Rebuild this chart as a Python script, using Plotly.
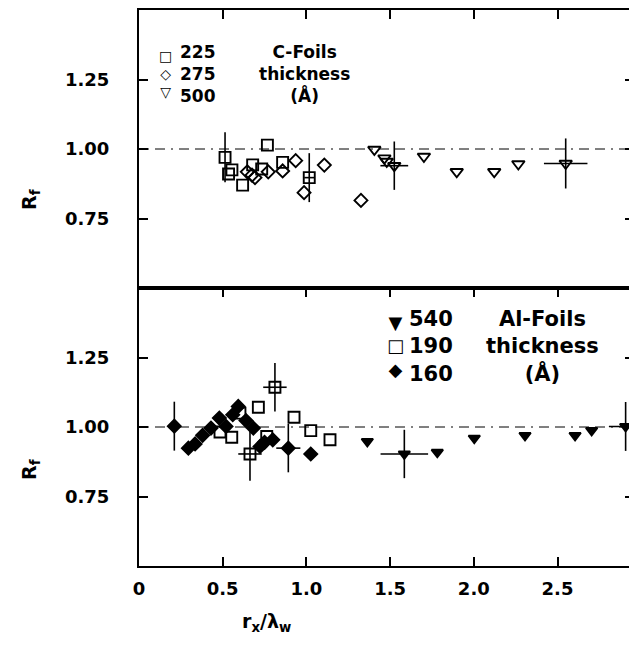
import plotly.graph_objects as go
from plotly.subplots import make_subplots

# ---------------- data: top panel (C-Foils) ----------------
c225_x = [0.514, 0.535, 0.555, 0.619, 0.679, 0.733, 0.767, 0.858, 1.017]
c225_y = [0.970, 0.910, 0.925, 0.870, 0.943, 0.928, 1.014, 0.952, 0.897]
c225_ey = [0.09, 0, 0, 0, 0, 0, 0, 0, 0.088]
c225_ex = [0, 0, 0, 0, 0, 0, 0, 0, 0.03]

c275_x = [0.647, 0.675, 0.693, 0.772, 0.858, 0.936, 0.986, 1.107, 1.326]
c275_y = [0.918, 0.906, 0.897, 0.918, 0.921, 0.958, 0.843, 0.942, 0.815]

c500_x = [1.406, 1.466, 1.480, 1.525, 1.702, 1.898, 2.122, 2.266, 2.549]
c500_y = [0.998, 0.967, 0.955, 0.940, 0.973, 0.918, 0.918, 0.946, 0.948]
c500_ey = [0, 0, 0, 0.087, 0, 0, 0, 0, 0.09]
c500_ex = [0, 0, 0, 0.083, 0, 0, 0, 0, 0.13]

# ---------------- data: bottom panel (Al-Foils) ----------------
a540_x = [1.364, 1.585, 1.782, 2.003, 2.306, 2.605, 2.704, 2.907]
a540_y = [0.948, 0.903, 0.909, 0.960, 0.970, 0.970, 0.988, 1.002]
a540_ey = [0, 0.087, 0, 0, 0, 0, 0, 0.088]
a540_ex = [0, 0.142, 0, 0, 0, 0, 0, 0.10]

a190_x = [0.484, 0.554, 0.603, 0.663, 0.713, 0.763, 0.812, 0.926, 1.026, 1.141]
a190_y = [0.982, 0.963, 1.050, 0.903, 1.071, 0.966, 1.143, 1.035, 0.987, 0.954]
a190_ey = [0, 0, 0, 0.096, 0, 0, 0.087, 0, 0, 0]
a190_ex = [0, 0, 0, 0.07, 0, 0, 0.07, 0, 0, 0]

a160_x = [0.211, 0.295, 0.335, 0.380, 0.430, 0.480, 0.520, 0.560, 0.593,
          0.639, 0.683, 0.723, 0.750, 0.799, 0.892, 1.026]
a160_y = [1.003, 0.924, 0.939, 0.970, 0.996, 1.032, 1.002, 1.044, 1.074,
          1.023, 0.996, 0.930, 0.945, 0.954, 0.924, 0.903]
a160_ey = [0.088, 0, 0, 0, 0, 0, 0, 0, 0, 0, 0, 0, 0, 0, 0.087, 0]
a160_ex = [0.02, 0, 0, 0, 0, 0, 0, 0, 0, 0, 0, 0, 0, 0, 0.072, 0]

x_tickvals = [0, 0.5, 1.0, 1.5, 2.0, 2.5]
x_ticktext = ["0", "0.5", "1.0", "1.5", "2.0", "2.5"]
y_tickvals = [0.75, 1.00, 1.25]
y_ticktext = ["0.75", "1.00", "1.25"]
ref_level = 1.0

top_legend_syms = ["□", "◇", "▽"]
top_legend_nums = ["225", "275", "500"]
top_legend_words = ["C-Foils", "thickness", "(Å)"]
bot_legend_syms = ["▼", "□", "◆"]
bot_legend_nums = ["540", "190", "160"]
bot_legend_words = ["Al-Foils", "thickness", "(Å)"]

FONT = "DejaVu Sans"
OFF = 8  # page body margin offset
W, H = 637 - OFF, 649 - 2 * OFF
RIGHT = 634  # window x of the right frame
ML, MT = 139 - OFF, 10 - OFF
MR = W - (RIGHT - OFF)
MB = H - (566 - OFF)
PW, PH = W - ML - MR, H - MT - MB
XMAX = (RIGHT - 139) / 167.4


def px(x):
    return (x - OFF - ML) / PW


def py(y):
    return (H - MB - (y - OFF)) / PH


fig = make_subplots(rows=2, cols=1, shared_xaxes=False, vertical_spacing=0.0)


def err(vals):
    return dict(type="data", array=vals, visible=True, color="black",
                thickness=1.6, width=0)


def add(x, y, symbol, size, row, ey=None, ex=None):
    kw = {}
    if ey is not None:
        kw["error_y"] = err(ey)
    if ex is not None:
        kw["error_x"] = err(ex)
    fig.add_trace(go.Scatter(
        x=x, y=y, mode="markers", showlegend=False,
        marker=dict(symbol=symbol, size=size, color="black",
                    line=dict(color="black", width=1.9)),
        **kw), row=row, col=1)


add(c275_x, c275_y, "diamond-open", 10, 1)
add(c225_x, c225_y, "square-open", 11, 1, c225_ey, c225_ex)
add(c500_x, c500_y, "triangle-down-open", 11, 1, c500_ey, c500_ex)

add(a190_x, a190_y, "square-open", 11, 2, a190_ey, a190_ex)
add(a160_x, a160_y, "diamond", 10, 2, a160_ey, a160_ex)
add(a540_x, a540_y, "triangle-down", 10, 2, a540_ey, a540_ex)

axis_common = dict(
    showline=True, linecolor="black", linewidth=2,
    ticks="inside", ticklen=9, tickwidth=2, tickcolor="black",
    showgrid=False, zeroline=False,
)
tickfont = dict(family=FONT, size=18, color="black", weight="bold")

fig.update_xaxes(range=[0, XMAX], tickvals=x_tickvals, ticktext=x_ticktext,
                 mirror=True, **axis_common)
fig.update_xaxes(row=1, col=1, showticklabels=False, side="top")
fig.update_xaxes(row=2, col=1, mirror="ticks", tickfont=tickfont,
                 ticklabelstandoff=5)
fig.update_yaxes(range=[0.5, 1.5], tickvals=y_tickvals, ticktext=y_ticktext,
                 tickfont=tickfont, ticklabelstandoff=24, mirror="allticks",
                 **axis_common)
fig.update_layout(
    xaxis=dict(domain=[0, 1]), xaxis2=dict(domain=[0, 1]),
    yaxis=dict(domain=[0.5, 1.0]), yaxis2=dict(domain=[0.0, 0.5]),
)

# dash-dot reference lines
for xr, yr in (("x domain", "y"), ("x2 domain", "y2")):
    fig.add_shape(type="line", xref=xr, yref=yr, x0=0, x1=1,
                  y0=ref_level, y1=ref_level,
                  line=dict(color="black", width=1, dash="10px,6px,10px,6px,2px,6px"))

# right frame edge (kept unclipped)
fig.add_shape(type="line", xref="paper", yref="paper", x0=1, x1=1, y0=0, y1=1,
              line=dict(color="black", width=2))

ann = []


def text(x, y, s, anchor="left", font=None, angle=0, align="left"):
    ann.append(dict(x=px(x), y=py(y), xref="paper", yref="paper", text=s,
                    showarrow=False, xanchor=anchor, yanchor="middle",
                    font=font, textangle=angle, align=align))


def legend_block(syms, nums, words, xs, xn, xw, yc, size):
    f = dict(family=FONT, size=size, color="black", weight="bold")
    fs = dict(family=FONT, size=size - 3, color="black")
    text(xs, yc, "<br>".join(syms), "center", fs, align="center")
    text(xn, yc, "<br>".join(nums), "left", f)
    text(xw, yc, "<br>".join(words), "center", f, align="center")


legend_block(top_legend_syms, top_legend_nums, top_legend_words,
             165, 178, 304, 74, 17)
legend_block(bot_legend_syms, bot_legend_nums, bot_legend_words,
             395, 407, 542, 346, 21)

# axis titles
tf = dict(family=FONT, size=19, color="black", weight="bold")
text(30, 200, "R<sub>f</sub>", "center", tf, -90)
text(30, 470, "R<sub>f</sub>", "center", tf, -90)
text(266, 622, "r<sub>x</sub>/λ<sub>w</sub>", "center", tf)

fig.update_layout(
    width=W, height=H,
    margin=dict(l=ML, r=MR, t=MT, b=MB, pad=0),
    paper_bgcolor="white", plot_bgcolor="white",
    annotations=ann, showlegend=False,
)

fig.write_html("out.html")
